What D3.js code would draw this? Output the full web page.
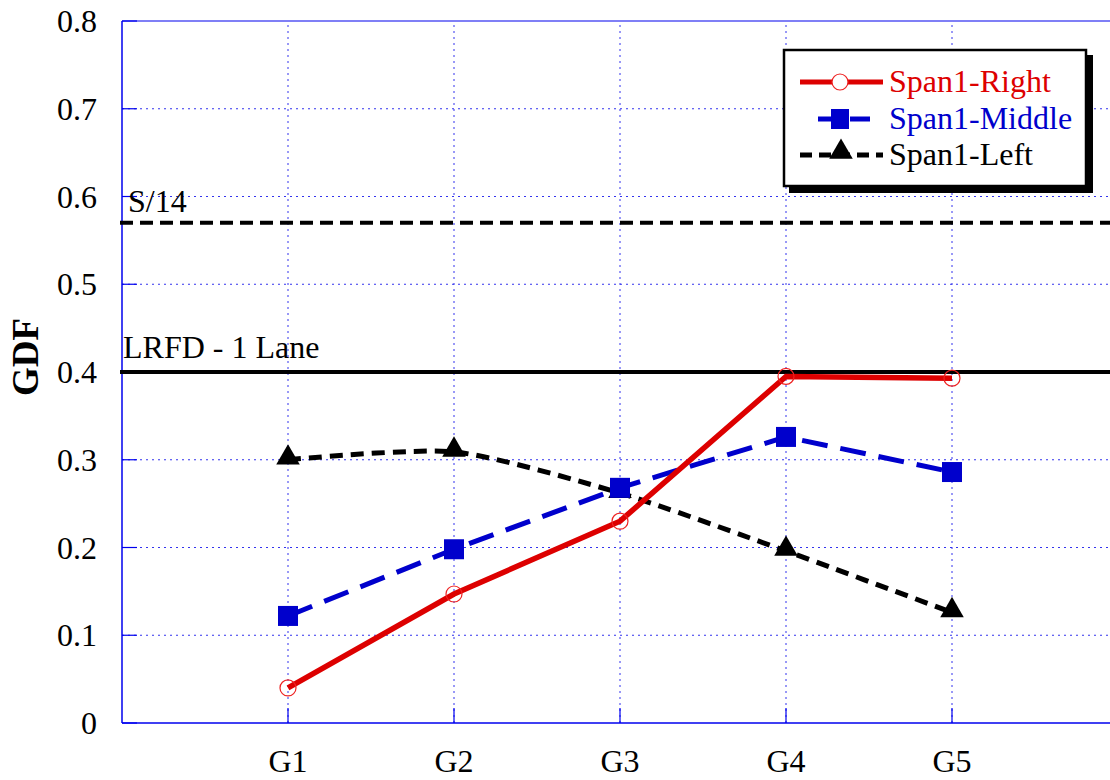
<!DOCTYPE html>
<html><head><meta charset="utf-8">
<script src="https://cdn.jsdelivr.net/npm/d3@7"></script>
<style>body{margin:0;background:#fff;}svg{display:block;} text{font-family:'Liberation Serif','DejaVu Serif',serif;}</style>
</head><body><div id="chart"></div>
<script>
const categories = ["G1","G2","G3","G4","G5"];
const spanRight  = [0.040, 0.147, 0.230, 0.395, 0.393];
const spanMiddle = [0.122, 0.198, 0.268, 0.326, 0.286];
const spanLeft   = [0.300, 0.309, 0.262, 0.196, 0.126];
const yTicks = [0, 0.1, 0.2, 0.3, 0.4, 0.5, 0.6, 0.7, 0.8];
const refLines = [{label:"S/14", value:0.570, dash:"13,7"}, {label:"LRFD - 1 Lane", value:0.400, dash:null}];
const seriesNames = ["Span1-Right","Span1-Middle","Span1-Left"];

const W = 1110, H = 780;
const FS = 32;
const svg = d3.select("#chart").append("svg").attr("width", W).attr("height", H);
const x = d3.scaleLinear().domain([0, 6]).range([122, 1118]);
const y = d3.scaleLinear().domain([0, 0.8]).range([723, 21]);

// grid
const g = svg.append("g");
g.selectAll(".hg").data(yTicks.filter(d => d > 0 && d < 0.8)).enter().append("line")
  .attr("x1", x(0)).attr("x2", x(6)).attr("y1", d => y(d)).attr("y2", d => y(d))
  .attr("stroke", "#3333ee").attr("stroke-width", 1).attr("stroke-dasharray", "2,4");
g.selectAll(".vg").data(categories).enter().append("line")
  .attr("x1", (d,i) => x(i+1)).attr("x2", (d,i) => x(i+1)).attr("y1", y(0)).attr("y2", y(0.8))
  .attr("stroke", "#3333ee").attr("stroke-width", 1).attr("stroke-dasharray", "2,4");
// frame
g.append("line").attr("x1", x(0)).attr("x2", x(6)).attr("y1", y(0.8)).attr("y2", y(0.8)).attr("stroke", "#0000ee").attr("stroke-width", 1.2);
g.append("line").attr("x1", x(0)).attr("x2", x(6)).attr("y1", y(0)).attr("y2", y(0)).attr("stroke", "#0000ee").attr("stroke-width", 1.5);
g.append("line").attr("x1", x(0)).attr("x2", x(0)).attr("y1", y(0)).attr("y2", y(0.8)).attr("stroke", "#0000ee").attr("stroke-width", 1.5);
// ticks inside
g.selectAll(".yt").data(yTicks).enter().append("line")
  .attr("x1", x(0)).attr("x2", x(0)+15).attr("y1", d => y(d)).attr("y2", d => y(d))
  .attr("stroke", "#0000ee").attr("stroke-width", 1.2);
g.selectAll(".xt").data(categories).enter().append("line")
  .attr("x1", (d,i) => x(i+1)).attr("x2", (d,i) => x(i+1)).attr("y1", y(0)).attr("y2", y(0)-15)
  .attr("stroke", "#0000ee").attr("stroke-width", 1.2);

// axis labels
svg.selectAll(".ytl").data(yTicks).enter().append("text")
  .attr("x", 97).attr("y", d => y(d) + 11).attr("text-anchor", "end")
  .attr("font-size", FS).text(d => d === 0 ? "0" : d3.format(".1f")(d));
svg.selectAll(".xtl").data(categories).enter().append("text")
  .attr("x", (d,i) => x(i+1)).attr("y", 772).attr("text-anchor", "middle")
  .attr("font-size", FS).text(d => d);
svg.append("text").attr("transform", "translate(38,357) rotate(-90)")
  .attr("text-anchor", "middle").attr("font-size", 37).attr("font-weight", "bold").text("GDF");

// reference lines
refLines.forEach(r => {
  svg.append("line").attr("x1", 120).attr("x2", x(6)).attr("y1", y(r.value)).attr("y2", y(r.value))
    .attr("stroke", "#000").attr("stroke-width", 4).attr("stroke-dasharray", r.dash);
});
svg.append("text").attr("x", 128).attr("y", 212).attr("font-size", FS).text(refLines[0].label);
svg.append("text").attr("x", 123).attr("y", 358).attr("font-size", FS).text(refLines[1].label);

// series
const idx = d3.range(categories.length);
const lineStraight = d3.line().x(i => x(i+1));
const lineCurve = d3.line().x(i => x(i+1)).curve(d3.curveCardinal.tension(0.3));

svg.append("path").datum(idx).attr("fill", "none").attr("stroke", "#000").attr("stroke-width", 5)
  .attr("stroke-dasharray", "13,8").attr("d", lineCurve.y(i => y(spanLeft[i])));
svg.append("path").datum(idx).attr("fill", "none").attr("stroke", "#0000cc").attr("stroke-width", 5)
  .attr("stroke-dasharray", "26,13").attr("d", lineStraight.y(i => y(spanMiddle[i])));
svg.append("path").datum(idx).attr("fill", "none").attr("stroke", "#dd0000").attr("stroke-width", 5.5)
  .attr("d", d3.line().x(i => x(i+1)).y(i => y(spanRight[i]))(idx));

const tri = d3.symbol().type(d3.symbolTriangle).size(240);
svg.selectAll(".tri").data(idx).enter().append("path")
  .attr("transform", i => `translate(${x(i+1)},${y(spanLeft[i])-2})`).attr("d", tri()).attr("fill", "#000");
svg.selectAll(".sq").data(idx).enter().append("rect")
  .attr("x", i => x(i+1)-10).attr("y", i => y(spanMiddle[i])-10).attr("width", 20).attr("height", 20)
  .attr("fill", "#0000cc");
svg.selectAll(".ci").data(idx).enter().append("circle")
  .attr("cx", i => x(i+1)).attr("cy", i => y(spanRight[i])).attr("r", 8)
  .attr("fill", "none").attr("stroke", "#ee2222").attr("stroke-width", 1.2);

// legend
const lg = svg.append("g");
lg.append("rect").attr("x", 789).attr("y", 55).attr("width", 304).attr("height", 138).attr("fill", "#000");
lg.append("rect").attr("x", 784).attr("y", 50).attr("width", 302).attr("height", 136).attr("fill", "#fff").attr("stroke", "#000").attr("stroke-width", 2.5);
const rows = [
  {name: seriesNames[0], color: "#dd0000", y: 82},
  {name: seriesNames[1], color: "#0000cc", y: 119},
  {name: seriesNames[2], color: "#000", y: 155}
];
lg.append("line").attr("x1", 800).attr("x2", 883).attr("y1", rows[0].y).attr("y2", rows[0].y).attr("stroke", "#dd0000").attr("stroke-width", 5);
lg.append("circle").attr("cx", 840).attr("cy", rows[0].y).attr("r", 8).attr("fill", "#fff").attr("stroke", "#ee2222").attr("stroke-width", 1.2);
lg.append("line").attr("x1", 818).attr("x2", 878).attr("y1", rows[1].y).attr("y2", rows[1].y).attr("stroke", "#0000cc").attr("stroke-width", 5).attr("stroke-dasharray", "20,12");
lg.append("rect").attr("x", 831).attr("y", rows[1].y-10).attr("width", 18).attr("height", 20).attr("fill", "#0000cc");
lg.append("line").attr("x1", 800).attr("x2", 883).attr("y1", rows[2].y).attr("y2", rows[2].y).attr("stroke", "#000").attr("stroke-width", 5).attr("stroke-dasharray", "12,7");
lg.append("path").attr("transform", `translate(841,${rows[2].y-3})`).attr("d", tri()).attr("fill", "#000");
lg.selectAll(".lt").data(rows).enter().append("text")
  .attr("x", 889).attr("y", d => d.y + 10).attr("font-size", FS).attr("fill", d => d.color).text(d => d.name);
</script></body></html>
